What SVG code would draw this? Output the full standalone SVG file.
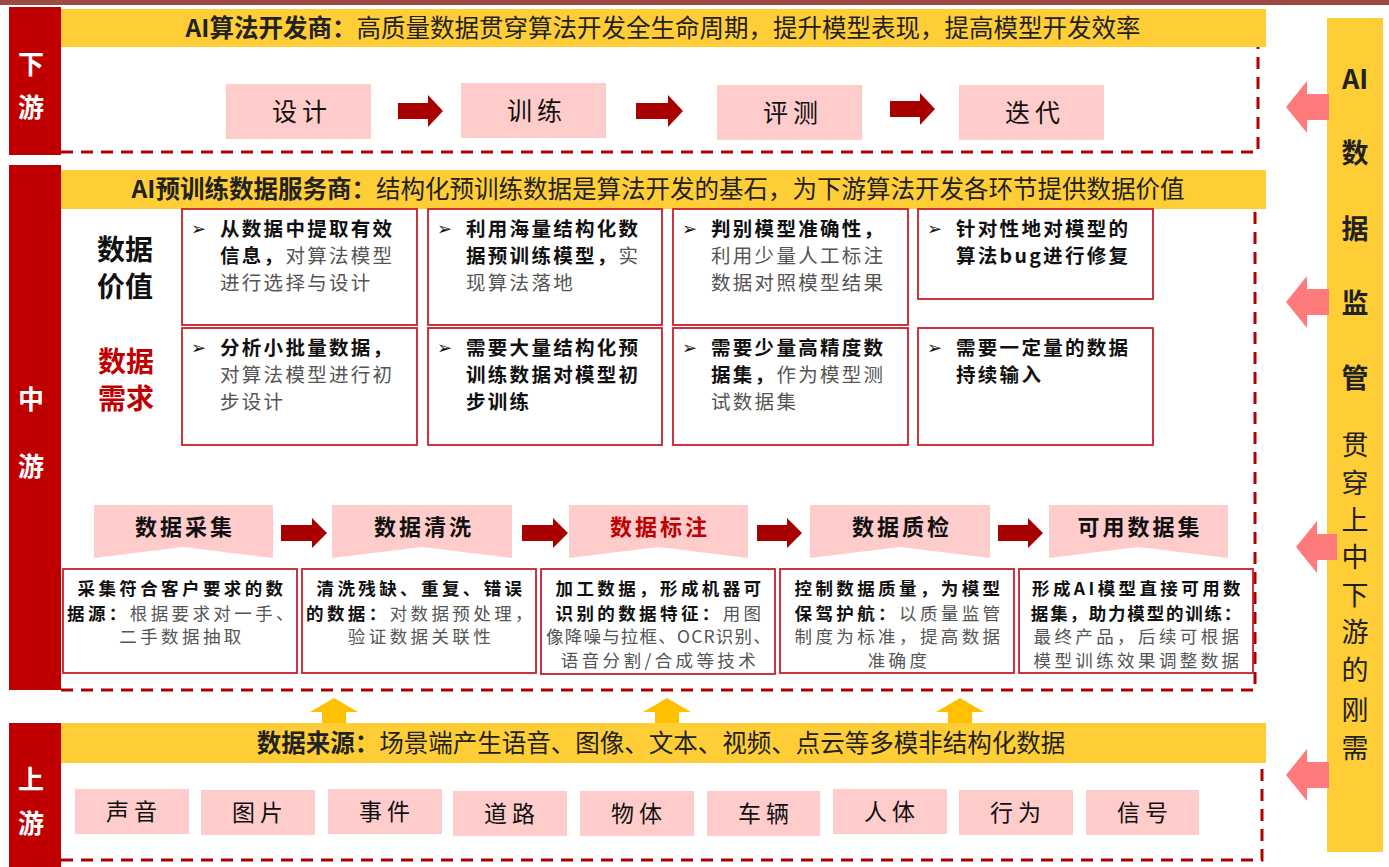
<svg xmlns="http://www.w3.org/2000/svg" width="1389" height="867" viewBox="0 0 1389 867">
<style>
.cn{font-family:"Noto Sans CJK SC","Noto Sans",sans-serif}
.side{fill:#C00000}
.sidet{font-family:"Noto Sans CJK SC",sans-serif;font-size:26px;font-weight:bold;fill:#fff;text-anchor:middle}
.hdr{fill:#FFCE36}
.hdrt{font-family:"Noto Sans CJK SC",sans-serif;font-size:24.5px;fill:#222;text-anchor:middle}
.b{font-weight:bold}
.dash{fill:none;stroke:#B00000;stroke-width:3;stroke-dasharray:12 8}
.pink{fill:#FFCCCC}
.pt{font-family:"Noto Sans CJK SC",sans-serif;font-size:25px;fill:#111;text-anchor:middle;letter-spacing:5px}
.bt{font-family:"Noto Sans CJK SC",sans-serif;font-size:23px;fill:#111;text-anchor:middle;letter-spacing:5px}
.darr{fill:#A80000}
.box{fill:#fff;stroke:#C8202A;stroke-width:1.8}
.gt{font-family:"Noto Sans CJK SC",sans-serif;font-size:19.5px;fill:#555;letter-spacing:2.3px}
.gt .b{fill:#111}
.bul{font-family:"DejaVu Sans",sans-serif;font-size:18px;fill:#111}
.dt{font-family:"Noto Sans CJK SC",sans-serif;font-size:17.5px;fill:#555;letter-spacing:3.4px;text-anchor:middle}
.dt .b{fill:#111}
.chev{fill:#FFCCCC}
.ct{font-family:"Noto Sans CJK SC",sans-serif;font-size:22px;font-weight:bold;fill:#111;text-anchor:middle;letter-spacing:3px}
.yarr{fill:#FFC000}
.parr{fill:#FF7B7B}
.rt{font-family:"Noto Sans CJK SC",sans-serif;font-size:27px;fill:#222;text-anchor:middle}
.big{font-family:"Noto Sans CJK SC",sans-serif;font-size:28px;font-weight:bold;text-anchor:middle}
</style>

<rect x="0" y="0" width="1389" height="5" fill="#9C4A44"/>

<!-- Downstream -->
<g id="downstream">
  <rect class="side" x="9" y="7" width="52" height="148"/>
  <text class="sidet" x="31" y="74">下</text>
  <text class="sidet" x="31" y="117">游</text>
  <rect class="hdr" x="61" y="9" width="1205" height="38"/>
  <text class="hdrt" x="663" y="37"><tspan class="b">AI算法开发商：</tspan>高质量数据贯穿算法开发全生命周期，提升模型表现，提高模型开发效率</text>
  <path class="dash" d="M61 152 H1258 V47"/>
</g>
<g id="step-design"><rect class="pink" x="226" y="84" width="145" height="55"/><text class="pt" x="302" y="121">设计</text></g>
<g id="step-train"><rect class="pink" x="461" y="83" width="145" height="55"/><text class="pt" x="537" y="120">训练</text></g>
<g id="step-eval"><rect class="pink" x="717" y="85" width="145" height="55"/><text class="pt" x="793" y="122">评测</text></g>
<g id="step-iter"><rect class="pink" x="959" y="85" width="145" height="55"/><text class="pt" x="1035" y="122">迭代</text></g>

<!-- Midstream -->
<g id="midstream">
  <rect class="side" x="9" y="165" width="52" height="525"/>
  <text class="sidet" x="31" y="409">中</text>
  <text class="sidet" x="31" y="476">游</text>
  <rect class="hdr" x="61" y="170" width="1205" height="39"/>
  <text class="hdrt" x="658" y="198"><tspan class="b">AI预训练数据服务商：</tspan>结构化预训练数据是算法开发的基石，为下游算法开发各环节提供数据价值</text>
  <path class="dash" d="M61 690 H1255 V209"/>
  <text class="big" x="125" y="260" fill="#111">数据</text>
  <text class="big" x="125" y="297" fill="#111">价值</text>
  <text class="big" x="126" y="372" fill="#C00000">数据</text>
  <text class="big" x="126" y="409" fill="#C00000">需求</text>
</g>

<g id="value-1">
  <rect class="box" x="182" y="209" width="235" height="116"/>
  <text class="bul" x="191" y="235">➢</text>
  <text class="gt" x="220" y="236"><tspan class="b">从数据中提取有效</tspan></text>
  <text class="gt" x="220" y="263"><tspan class="b">信息，</tspan>对算法模型</text>
  <text class="gt" x="220" y="290">进行选择与设计</text>
</g>
<g id="value-2">
  <rect class="box" x="428" y="209" width="234" height="116"/>
  <text class="bul" x="437" y="235">➢</text>
  <text class="gt" x="466" y="236"><tspan class="b">利用海量结构化数</tspan></text>
  <text class="gt" x="466" y="263"><tspan class="b">据预训练模型，</tspan>实</text>
  <text class="gt" x="466" y="290">现算法落地</text>
</g>
<g id="value-3">
  <rect class="box" x="673" y="209" width="235" height="116"/>
  <text class="bul" x="682" y="235">➢</text>
  <text class="gt" x="711" y="236"><tspan class="b">判别模型准确性，</tspan></text>
  <text class="gt" x="711" y="263">利用少量人工标注</text>
  <text class="gt" x="711" y="290">数据对照模型结果</text>
</g>
<g id="value-4">
  <rect class="box" x="918" y="209" width="235" height="90"/>
  <text class="bul" x="927" y="235">➢</text>
  <text class="gt" x="956" y="236"><tspan class="b">针对性地对模型的</tspan></text>
  <text class="gt" x="956" y="263"><tspan class="b">算法bug进行修复</tspan></text>
</g>
<g id="need-1">
  <rect class="box" x="182" y="328" width="235" height="117"/>
  <text class="bul" x="191" y="354">➢</text>
  <text class="gt" x="220" y="355"><tspan class="b">分析小批量数据，</tspan></text>
  <text class="gt" x="220" y="382">对算法模型进行初</text>
  <text class="gt" x="220" y="409">步设计</text>
</g>
<g id="need-2">
  <rect class="box" x="428" y="328" width="234" height="117"/>
  <text class="bul" x="437" y="354">➢</text>
  <text class="gt" x="466" y="355"><tspan class="b">需要大量结构化预</tspan></text>
  <text class="gt" x="466" y="382"><tspan class="b">训练数据对模型初</tspan></text>
  <text class="gt" x="466" y="409"><tspan class="b">步训练</tspan></text>
</g>
<g id="need-3">
  <rect class="box" x="673" y="328" width="235" height="117"/>
  <text class="bul" x="682" y="354">➢</text>
  <text class="gt" x="711" y="355"><tspan class="b">需要少量高精度数</tspan></text>
  <text class="gt" x="711" y="382"><tspan class="b">据集，</tspan>作为模型测</text>
  <text class="gt" x="711" y="409">试数据集</text>
</g>
<g id="need-4">
  <rect class="box" x="918" y="328" width="235" height="117"/>
  <text class="bul" x="927" y="354">➢</text>
  <text class="gt" x="956" y="355"><tspan class="b">需要一定量的数据</tspan></text>
  <text class="gt" x="956" y="382"><tspan class="b">持续输入</tspan></text>
</g>

<!-- Process -->
<g id="proc-collect">
  <path class="chev" d="M94 505 H273 V558 L183.5 547 L94 558 Z"/>
  <text class="ct" x="185" y="535">数据采集</text>
  <rect class="box" x="63" y="569" width="234" height="104"/>
  <text class="dt" x="182" y="595"><tspan class="b">采集符合客户要求的数</tspan></text>
  <text class="dt" x="182" y="620"><tspan class="b">据源：</tspan>根据要求对一手、</text>
  <text class="dt" x="182" y="643">二手数据抽取</text>
</g>
<g id="proc-clean">
  <path class="chev" d="M332 505 H512 V558 L422 547 L332 558 Z"/>
  <text class="ct" x="424" y="535">数据清洗</text>
  <rect class="box" x="302" y="569" width="234" height="104"/>
  <text class="dt" x="421" y="595"><tspan class="b">清洗残缺、重复、错误</tspan></text>
  <text class="dt" x="421" y="620"><tspan class="b">的数据：</tspan>对数据预处理，</text>
  <text class="dt" x="421" y="643">验证数据关联性</text>
</g>
<g id="proc-label">
  <path class="chev" d="M569 505 H748 V558 L658.5 547 L569 558 Z"/>
  <text class="ct" x="660" y="535" style="fill:#C00000">数据标注</text>
  <rect class="box" x="541" y="569" width="234" height="105"/>
  <text class="dt" x="660" y="595"><tspan class="b">加工数据，形成机器可</tspan></text>
  <text class="dt" x="660" y="620"><tspan class="b">识别的数据特征：</tspan>用图</text>
  <text class="dt" x="659" y="643" style="letter-spacing:1.2px">像降噪与拉框、OCR识别、</text>
  <text class="dt" x="660" y="667">语音分割/合成等技术</text>
</g>
<g id="proc-qc">
  <path class="chev" d="M810 505 H990 V558 L900 547 L810 558 Z"/>
  <text class="ct" x="902" y="535">数据质检</text>
  <rect class="box" x="780" y="569" width="234" height="104"/>
  <text class="dt" x="899" y="595"><tspan class="b">控制数据质量，为模型</tspan></text>
  <text class="dt" x="899" y="620"><tspan class="b">保驾护航：</tspan>以质量监管</text>
  <text class="dt" x="899" y="643">制度为标准，提高数据</text>
  <text class="dt" x="899" y="667">准确度</text>
</g>
<g id="proc-dataset">
  <path class="chev" d="M1049 505 H1228 V558 L1138.5 547 L1049 558 Z"/>
  <text class="ct" x="1140" y="535">可用数据集</text>
  <rect class="box" x="1019" y="569" width="234" height="104"/>
  <text class="dt" x="1138" y="595"><tspan class="b">形成AI模型直接可用数</tspan></text>
  <text class="dt" x="1137" y="620" style="letter-spacing:1.8px"><tspan class="b">据集，助力模型的训练：</tspan></text>
  <text class="dt" x="1138" y="643">最终产品，后续可根据</text>
  <text class="dt" x="1138" y="667">模型训练效果调整数据</text>
</g>

<!-- Upstream -->
<g id="upstream">
  <rect class="side" x="9" y="723" width="52" height="144"/>
  <text class="sidet" x="31" y="789">上</text>
  <text class="sidet" x="31" y="833">游</text>
  <rect class="hdr" x="61" y="723" width="1205" height="40"/>
  <text class="hdrt" x="661" y="752"><tspan class="b">数据来源：</tspan>场景端产生语音、图像、文本、视频、点云等多模非结构化数据</text>
  <path class="dash" d="M61 860 H1262 V763"/>
</g>
<g id="src-sound"><rect class="pink" x="75" y="789" width="114" height="45"/><text class="bt" x="134" y="820">声音</text></g>
<g id="src-image"><rect class="pink" x="201" y="790" width="114" height="45"/><text class="bt" x="260" y="821">图片</text></g>
<g id="src-event"><rect class="pink" x="328" y="789" width="114" height="45"/><text class="bt" x="387" y="820">事件</text></g>
<g id="src-road"><rect class="pink" x="453" y="791" width="114" height="45"/><text class="bt" x="512" y="822">道路</text></g>
<g id="src-object"><rect class="pink" x="580" y="791" width="114" height="45"/><text class="bt" x="639" y="822">物体</text></g>
<g id="src-vehicle"><rect class="pink" x="707" y="791" width="113" height="45"/><text class="bt" x="766" y="822">车辆</text></g>
<g id="src-human"><rect class="pink" x="833" y="789" width="114" height="45"/><text class="bt" x="892" y="820">人体</text></g>
<g id="src-behavior"><rect class="pink" x="959" y="790" width="114" height="45"/><text class="bt" x="1018" y="821">行为</text></g>
<g id="src-signal"><rect class="pink" x="1086" y="790" width="113" height="45"/><text class="bt" x="1145" y="821">信号</text></g>

<!-- Right supervision bar -->
<g id="supervision">
  <rect class="hdr" x="1327" y="18" width="56" height="834"/>
  <text class="rt b" x="1355" y="89" font-size="30">AI</text>
  <text class="rt b" x="1355" y="163">数</text>
  <text class="rt b" x="1355" y="239">据</text>
  <text class="rt b" x="1355" y="313">监</text>
  <text class="rt b" x="1355" y="388">管</text>
  <text class="rt" x="1355" y="455">贯</text>
  <text class="rt" x="1355" y="493">穿</text>
  <text class="rt" x="1355" y="530">上</text>
  <text class="rt" x="1355" y="567">中</text>
  <text class="rt" x="1355" y="605">下</text>
  <text class="rt" x="1355" y="642">游</text>
  <text class="rt" x="1355" y="680">的</text>
  <text class="rt" x="1355" y="720">刚</text>
  <text class="rt" x="1355" y="758">需</text>
</g>

<!-- Connectors -->
<g id="connectors">
  <path class="darr" d="M398 103 H428 V95 L443 111 L428 127 V119 H398 Z"/>
  <path class="darr" d="M636 103 H668 V95 L683 111 L668 127 V119 H636 Z"/>
  <path class="darr" d="M890 101 H920 V93 L935 109 L920 125 V117 H890 Z"/>
  <path class="darr" d="M281 525 H312 V518 L327 533 L312 548 V541 H281 Z"/>
  <path class="darr" d="M522 525 H553 V518 L568 533 L553 548 V541 H522 Z"/>
  <path class="darr" d="M757 525 H787 V518 L802 533 L787 548 V541 H757 Z"/>
  <path class="darr" d="M998 525 H1028 V518 L1043 533 L1028 548 V541 H998 Z"/>
  <path class="yarr" d="M322 723 V712 H310 L334 698 L358 712 H346 V723 Z"/>
  <path class="yarr" d="M655 723 V712 H643 L667 698 L691 712 H679 V723 Z"/>
  <path class="yarr" d="M948 723 V712 H936 L960 698 L984 712 H972 V723 Z"/>
  <path class="parr" d="M1329 94 H1307 V81 L1286 107 L1307 133 V120 H1329 Z"/>
  <path class="parr" d="M1329 289 H1307 V276 L1286 302 L1307 328 V315 H1329 Z"/>
  <path class="parr" d="M1337 534 H1317 V521 L1296 547 L1317 573 V560 H1337 Z"/>
  <path class="parr" d="M1329 762 H1307 V749 L1286 775 L1307 801 V788 H1329 Z"/>
</g>
</svg>
